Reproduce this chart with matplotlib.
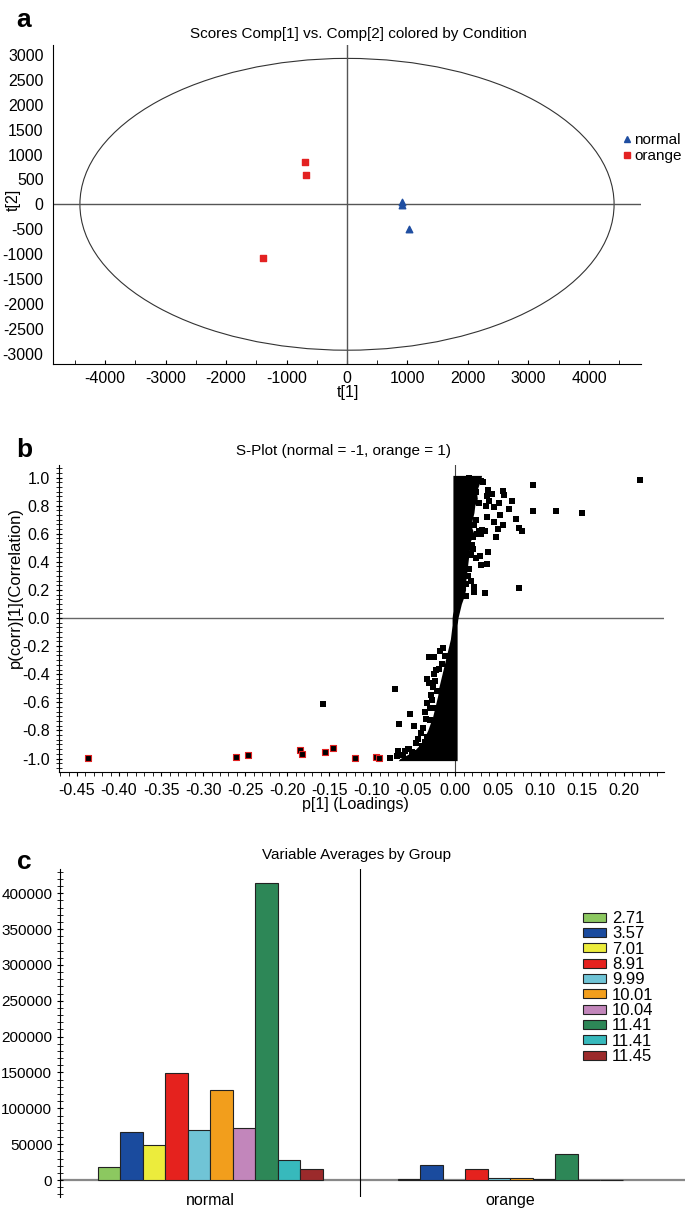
import matplotlib
matplotlib.use("Agg")
import matplotlib.pyplot as plt
from matplotlib.patches import Ellipse, Patch
from matplotlib.lines import Line2D
from matplotlib.ticker import MultipleLocator, AutoMinorLocator, FormatStrFormatter

plt.rcParams["font.family"] = ["Liberation Sans", "DejaVu Sans"]
plt.rcParams["axes.unicode_minus"] = False

W, H = 685, 1210

# --- a: scores t[1] vs t[2]
normal_t1 = [905, 905, 1025]
normal_t2 = [40, -20, -490]
orange_t1 = [-695, -680, -1390]
orange_t2 = [845, 590, -1070]
ellipse_half = (4415, 2930)  # Hotelling T2 ellipse half-axes

# --- b: S-plot, scattered variables
sp_x = [0.219, 0.092, 0.092, 0.120, 0.150, 0.075, 0.035, 0.030, 0.038, 0.039,
        0.079, 0.075, 0.072, 0.067, 0.057, 0.058, 0.052, 0.064, 0.053, 0.056,
        0.051, 0.046, 0.037, 0.046, 0.048, 0.039, 0.043, 0.030, 0.033, 0.016,
        0.022, 0.022, 0.019, 0.029, 0.024, 0.035, 0.032, 0.028, 0.030, 0.036,
        0.040, 0.037, 0.016, 0.018, 0.027, 0.024, 0.026, 0.021,
        0.025, 0.028, 0.020, 0.015, 0.018, 0.013, 0.025, 0.022, 0.012, 0.021,
        -0.072, -0.032, -0.026, -0.015, -0.018, -0.019, -0.023, -0.034, -0.032,
        -0.027, -0.034, -0.023, -0.036, -0.054, -0.035, -0.030, -0.067, -0.049,
        -0.034, -0.036, -0.047, -0.068, -0.060, -0.052, -0.062, -0.046, -0.078,
        -0.158, -0.041, -0.029, -0.025, -0.040, -0.057,
        -0.022, -0.028, -0.030, -0.038, -0.044, -0.055, -0.070, -0.012, -0.016, -0.024]
sp_y = [0.98, 0.95, 0.76, 0.76, 0.745, 0.215, 0.175, 0.375, 0.384, 0.47,
        0.62, 0.64, 0.705, 0.835, 0.905, 0.875, 0.815, 0.775, 0.73, 0.66,
        0.63, 0.68, 0.72, 0.79, 0.575, 0.91, 0.885, 0.975, 0.97, 0.995,
        0.22, 0.185, 0.455, 0.44, 0.43, 0.62, 0.625, 0.62, 0.595, 0.80,
        0.83, 0.87, 0.35, 0.45, 0.99, 0.96, 0.60, 0.58,
        0.70, 0.82, 0.52, 0.30, 0.26, 0.16, 0.90, 0.66, 0.24, 0.49,
        -0.505, -0.275, -0.278, -0.21, -0.235, -0.365, -0.37, -0.434, -0.465,
        -0.489, -0.607, -0.638, -0.671, -0.681, -0.72, -0.726, -0.757, -0.769,
        -0.845, -0.88, -0.892, -0.95, -0.947, -0.952, -0.975, -0.963, -0.994,
        -0.612, -0.82, -0.55, -0.40, -0.91, -0.93,
        -0.52, -0.58, -0.64, -0.78, -0.86, -0.93, -0.985, -0.27, -0.33, -0.45]
# highlighted variables (red outline)
hl_x = [-0.437, -0.2605, -0.247, -0.185, -0.1825, -0.155, -0.146, -0.119, -0.094, -0.0905]
hl_y = [-0.996, -0.991, -0.975, -0.942, -0.968, -0.954, -0.923, -0.996, -0.987, -0.996]
# dense core of thousands of overlapping points: its outline
core_y = [-1.015, -1.0, -0.975, -0.95, -0.925, -0.9, -0.875, -0.85, -0.8, -0.75,
          -0.7, -0.65, -0.6, -0.55, -0.5, -0.45, -0.4, -0.35, -0.3, -0.25,
          -0.2, -0.15, -0.1, -0.05, 0.0, 0.05, 0.1, 0.15, 0.2, 0.25,
          0.3, 0.35, 0.4, 0.45, 0.5, 0.55, 0.6, 0.65, 0.7, 0.75,
          0.8, 0.85, 0.9, 0.95, 0.98, 1.015]
core_left = [-0.068, -0.066, -0.058, -0.050, -0.046, -0.042, -0.039, -0.037, -0.033, -0.030,
             -0.027, -0.025, -0.023, -0.021, -0.020, -0.018, -0.016, -0.014, -0.012, -0.010,
             -0.008, -0.006, -0.005, -0.004, -0.004, -0.003, -0.003, -0.003, -0.003, -0.003,
             -0.003, -0.003, -0.003, -0.003, -0.003, -0.003, -0.003, -0.003, -0.003, -0.003,
             -0.003, -0.003, -0.003, -0.003, -0.003, -0.003]
core_right = [0.002, 0.002, 0.002, 0.002, 0.002, 0.002, 0.002, 0.002, 0.002, 0.002,
              0.002, 0.002, 0.002, 0.002, 0.002, 0.002, 0.002, 0.002, 0.002, 0.002,
              0.002, 0.002, 0.002, 0.002, 0.003, 0.005, 0.007, 0.010, 0.012, 0.012,
              0.013, 0.014, 0.015, 0.016, 0.017, 0.018, 0.022, 0.019, 0.020, 0.022,
              0.023, 0.026, 0.025, 0.028, 0.030, 0.031]

# --- c: variable averages
groups = ["normal", "orange"]
var_labels = ["2.71", "3.57", "7.01", "8.91", "9.99", "10.01", "10.04", "11.41", "11.41", "11.45"]
normal_avg = [18600, 66500, 48800, 148800, 69800, 125600, 72100, 414000, 27900, 15300]
orange_avg = [900, 21000, 400, 14900, 3300, 3300, 1900, 35900, 0, 0]
bar_colors = ["#8cc860", "#1a4b9e", "#ecec3c", "#e5221e", "#70c4d6",
              "#f29e1c", "#c286bb", "#2d8757", "#37b9bc", "#9b2a2b"]


def px_axes(fig, left, top, right, bottom):
    return fig.add_axes([left / W, 1 - bottom / H, (right - left) / W, (bottom - top) / H])


def ftext(fig, x, y, s, **kw):
    fig.text(x / W, 1 - y / H, s, ha="center", va="center", **kw)


fig = plt.figure(figsize=(W / 100, H / 100), dpi=100)
tick_fs = 11.5
title_fs = 11

# ================= a =================
ax = px_axes(fig, 53.3, 45, 641, 364)
ax.set_xlim(-4855, 4860)
ax.set_ylim(-3207, 3199)
for s in ("top", "right"):
    ax.spines[s].set_visible(False)
ax.axhline(0, color="#555555", lw=1)
ax.axvline(0, color="#555555", lw=1)
ax.add_patch(Ellipse((0, 0), 2 * ellipse_half[0], 2 * ellipse_half[1],
                     fill=False, edgecolor="#333333", lw=0.8))
ax.scatter(normal_t1, normal_t2, marker="^", s=22, color="#1f4ea1", zorder=3)
ax.scatter(orange_t1, orange_t2, marker="s", s=16, color="#e32222", zorder=3)
ax.xaxis.set_major_locator(MultipleLocator(1000))
ax.xaxis.set_minor_locator(MultipleLocator(500))
ax.yaxis.set_major_locator(MultipleLocator(500))
ax.tick_params(axis="x", which="both", direction="in", length=3, labelsize=tick_fs, pad=5)
ax.tick_params(axis="y", which="both", length=0, labelsize=tick_fs, pad=7)
ftext(fig, 348, 393, "t[1]", fontsize=tick_fs)
ftext(fig, 13, 200, "t[2]", fontsize=tick_fs, rotation=90)
ftext(fig, 358, 34, "Scores Comp[1] vs. Comp[2] colored by Condition", fontsize=title_fs)
ftext(fig, 24, 20, "a", fontsize=19, fontweight="bold")
handles = [Line2D([], [], ls="", marker="^", ms=5, color="#1f4ea1"),
           Line2D([], [], ls="", marker="s", ms=4, color="#e32222")]
fig.legend(handles, ["normal", "orange"], loc="upper left",
           bbox_to_anchor=(623 / W, 1 - 133 / H), frameon=False, fontsize=11,
           handlelength=0.5, handletextpad=0.25, labelspacing=0.15, borderpad=0,
           borderaxespad=0)

# ================= b =================
ax = px_axes(fig, 59, 465, 664, 772)
ax.set_xlim(-0.4714, 0.248)
ax.set_ylim(-1.096, 1.089)
for s in ("top", "right"):
    ax.spines[s].set_visible(False)
ax.axhline(0, color="#666666", lw=1, zorder=1)
ax.axvline(0, color="#444444", lw=0.8, zorder=1)
ax.fill_betweenx(core_y, core_left, core_right, color="black", lw=0, zorder=2)
ax.scatter(sp_x, sp_y, marker="s", s=15, color="black", lw=0, zorder=3)
ax.scatter(hl_x, hl_y, marker="s", s=16, facecolor="black", edgecolor="#e02020",
           lw=0.8, zorder=4)
ax.xaxis.set_major_locator(MultipleLocator(0.05))
ax.xaxis.set_minor_locator(MultipleLocator(0.01))
ax.xaxis.set_major_formatter(FormatStrFormatter("%.2f"))
ax.yaxis.set_major_locator(MultipleLocator(0.2))
ax.yaxis.set_minor_locator(AutoMinorLocator(6))
ax.yaxis.set_major_formatter(FormatStrFormatter("%.1f"))
ax.tick_params(axis="x", which="both", direction="out", length=3, labelsize=tick_fs, pad=5)
ax.tick_params(axis="y", which="both", direction="inout", length=5, labelsize=tick_fs, pad=4)
ftext(fig, 355, 805, "p[1] (Loadings)", fontsize=tick_fs)
ftext(fig, 15, 588, "p(corr)[1](Correlation)", fontsize=12, rotation=90)
ftext(fig, 344, 451, "S-Plot (normal = -1, orange = 1)", fontsize=title_fs)
ftext(fig, 24, 450, "b", fontsize=19, fontweight="bold")

# ================= c =================
ax = px_axes(fig, 60, 869, 685, 1197)
ax.set_xlim(-0.5, 1.583)
ax.set_ylim(-23700, 433900)
for s in ("top", "right", "bottom"):
    ax.spines[s].set_visible(False)
bw = 0.075
for i, (lab, col) in enumerate(zip(var_labels, bar_colors)):
    off = (i - 4.5) * bw
    ax.bar([0 + off, 1 + off], [normal_avg[i], orange_avg[i]], width=bw,
           color=col, edgecolor="#222222", lw=0.8, zorder=2)
ax.axhline(0, color="#888888", lw=1.6, zorder=1)
ax.axvline(0.5, color="black", lw=0.8)
ax.set_xticks([0, 1])
ax.set_xticklabels(groups)
ax.tick_params(axis="x", length=0, labelsize=tick_fs, pad=-3)
ax.yaxis.set_major_locator(MultipleLocator(50000))
ax.yaxis.set_minor_locator(MultipleLocator(10000))
ax.tick_params(axis="y", which="both", direction="inout", length=5, labelsize=11, pad=3)
ftext(fig, 356, 855, "Variable Averages by Group", fontsize=title_fs)
ftext(fig, 24, 862, "c", fontsize=19, fontweight="bold")
leg_handles = [Patch(facecolor=c, edgecolor="#222222", lw=0.8) for c in bar_colors]
fig.legend(leg_handles, var_labels, loc="upper left",
           bbox_to_anchor=(583 / W, 1 - 911 / H), frameon=False, fontsize=12,
           handlelength=1.35, handleheight=0.45, handletextpad=0.4,
           labelspacing=0.02, borderpad=0, borderaxespad=0)

fig.savefig("out.png", dpi=100)
